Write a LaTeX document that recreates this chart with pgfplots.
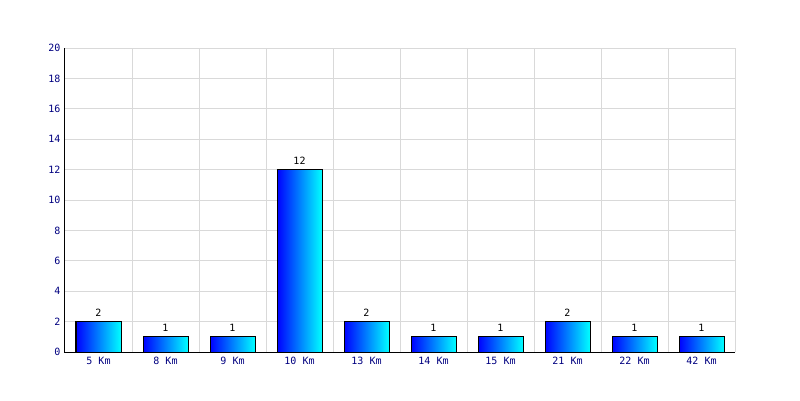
\documentclass[border=0pt]{standalone}
\usepackage{pgfplots}
\pgfplotsset{compat=1.18}
\usepackage{fontspec}
\setmainfont{DejaVu Sans Mono}
\definecolor{navytxt}{RGB}{0,0,128}
\definecolor{gridgray}{RGB}{217,217,217}
\pgfplotsset{mybar/.style={ybar, bar shift=0pt, bar width=45pt, draw=black, line width=1pt,
    left color=blue, right color=cyan, mark=none, solid,
    nodes near coords, nodes near coords style={font=\fontsize{10}{12}\selectfont, text=black, yshift=1.5pt}}}
\begin{document}
\begin{tikzpicture}[x=1pt,y=1pt]
\useasboundingbox (-65pt,-48pt) rectangle (735pt,352pt);
\begin{axis}[
  at={(0,0)}, anchor=south west,
  scale only axis, width=670pt, height=304pt,
  xmin=-0.5, xmax=9.5, ymin=0, ymax=20,
  xtick={0,...,9},
  xticklabels={5 Km,8 Km,9 Km,10 Km,13 Km,14 Km,15 Km,21 Km,22 Km,42 Km},
  minor xtick={-0.5,0.5,...,9.5},
  ytick={0,2,...,20},
  xminorgrids=true, ymajorgrids=true,
  minor grid style={gridgray, line width=1pt},
  major grid style={gridgray, line width=1pt},
  tick style={draw=none},
  minor tick length=0pt, major tick length=0pt,
  axis line style={draw=none},
  ticklabel style={font=\fontsize{10}{12}\selectfont, text=navytxt},
  xticklabel style={yshift=-2pt},
  yticklabel style={xshift=-1pt},
  /pgf/number format/assume math mode=true,
  clip=false,
]
\addplot[mybar] coordinates {(0,2)};
\addplot[mybar] coordinates {(1,1)};
\addplot[mybar] coordinates {(2,1)};
\addplot[mybar] coordinates {(3,12)};
\addplot[mybar] coordinates {(4,2)};
\addplot[mybar] coordinates {(5,1)};
\addplot[mybar] coordinates {(6,1)};
\addplot[mybar] coordinates {(7,2)};
\addplot[mybar] coordinates {(8,1)};
\addplot[mybar] coordinates {(9,1)};
\draw[black, line width=1pt] (axis cs:-0.5,20) -- (axis cs:-0.5,0) -- (axis cs:9.5,0);
\end{axis}
\end{tikzpicture}
\end{document}
